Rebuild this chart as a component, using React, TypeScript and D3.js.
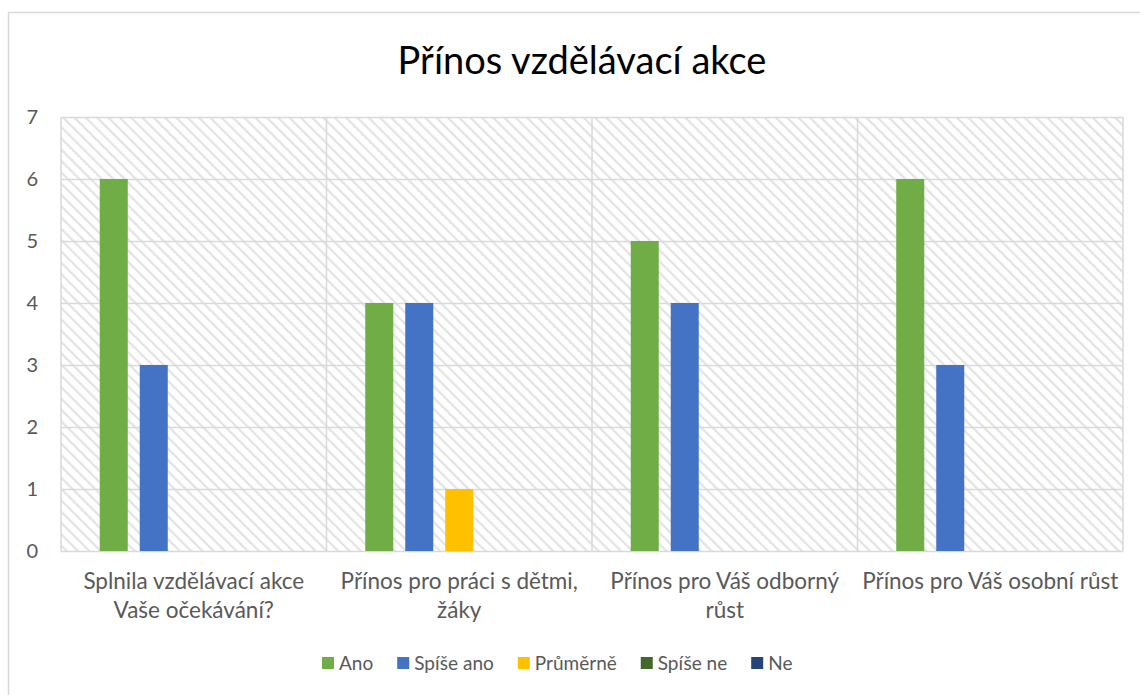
import { useEffect, useRef } from 'react';
import * as d3 from 'd3';

const categories = [
  'Splnila vzdělávací akce Vaše očekávání?',
  'Přínos pro práci s dětmi, žáky',
  'Přínos pro Váš odborný růst',
  'Přínos pro Váš osobní růst'
];

const seriesNames = ['Ano', 'Spíše ano', 'Průměrně', 'Spíše ne', 'Ne'];
const seriesColors = ['#70ad47', '#4472c4', '#ffc000', '#43682b', '#264478'];

const ano = [6, 4, 5, 6];
const spiseAno = [3, 4, 4, 3];
const prumerne = [0, 1, 0, 0];
const spiseNe = [0, 0, 0, 0];
const ne = [0, 0, 0, 0];

const yTicks = [0, 1, 2, 3, 4, 5, 6, 7];

const FONT = 'Lato, "Open Sans", sans-serif';

export default function App() {
  const svgRef = useRef<SVGSVGElement>(null);

  useEffect(() => {
    if (!svgRef.current) return;
    const W = 1140;
    const H = 695;
    const margin = { top: 117, right: 17, bottom: 144, left: 61 };
    const width = W - margin.left - margin.right;
    const height = H - margin.top - margin.bottom;

    const svg = d3.select(svgRef.current);
    svg.selectAll('*').remove();

    // hatch pattern for the plot background
    const defs = svg.append('defs');
    const pat = defs.append('pattern')
      .attr('id', 'hatch')
      .attr('patternUnits', 'userSpaceOnUse')
      .attr('width', 8)
      .attr('height', 8)
      .attr('patternTransform', 'rotate(-45)');
    pat.append('rect').attr('width', 8).attr('height', 8).attr('fill', '#ffffff');
    pat.append('line')
      .attr('x1', 0).attr('y1', 0).attr('x2', 0).attr('y2', 8)
      .attr('stroke', '#e3e3e3')
      .attr('stroke-width', 4.5);

    // outer chart border
    svg.append('rect')
      .attr('x', 8.5).attr('y', 12.5)
      .attr('width', W + 20).attr('height', H + 20)
      .attr('fill', 'white')
      .attr('stroke', '#d9d9d9')
      .attr('stroke-width', 1.5);

    svg.append('text')
      .attr('x', 582)
      .attr('y', 74)
      .attr('text-anchor', 'middle')
      .attr('font-family', FONT)
      .attr('font-size', 38)
      .attr('fill', '#000')
      .text('Přínos vzdělávací akce');

    const g = svg.append('g').attr('transform', `translate(${margin.left},${margin.top})`);

    const x0 = d3.scaleBand().domain(categories).range([0, width]).paddingInner(0).paddingOuter(0);
    const bw = x0.bandwidth();
    const groupW = 188;
    const x1 = d3.scaleBand()
      .domain(seriesNames)
      .range([(bw - groupW) / 2, (bw + groupW) / 2])
      .paddingInner(12 / 40);
    const y = d3.scaleLinear().domain([0, 7]).range([height, 0]);

    g.append('rect')
      .attr('width', width).attr('height', height)
      .attr('fill', 'url(#hatch)');

    // horizontal gridlines
    g.append('g').selectAll('line')
      .data(yTicks)
      .enter().append('line')
      .attr('x1', 0).attr('x2', width)
      .attr('y1', d => Math.round(y(d)) + 0.5)
      .attr('y2', d => Math.round(y(d)) + 0.5)
      .attr('stroke', '#d9d9d9')
      .attr('stroke-width', 1.5);

    // category separators
    const bounds = [0, ...categories.map(c => x0(c)! + bw)];
    g.append('g').selectAll('line')
      .data(bounds)
      .enter().append('line')
      .attr('x1', d => d).attr('x2', d => d)
      .attr('y1', 0).attr('y2', height)
      .attr('stroke', '#d9d9d9')
      .attr('stroke-width', 1.5);

    const values = [ano, spiseAno, prumerne, spiseNe, ne];
    const rows = categories.flatMap((c, ci) =>
      seriesNames.map((s, si) => ({ c, s, si, v: values[si][ci] }))
    ).filter(d => d.v > 0);

    g.append('g').selectAll('rect')
      .data(rows)
      .enter().append('rect')
      .attr('x', d => x0(d.c)! + x1(d.s)!)
      .attr('y', d => y(d.v))
      .attr('width', x1.bandwidth())
      .attr('height', d => y(0) - y(d.v))
      .attr('fill', d => seriesColors[d.si]);

    // y labels
    g.append('g').selectAll('text')
      .data(yTicks)
      .enter().append('text')
      .attr('x', -23)
      .attr('y', d => y(d))
      .attr('dy', '0.35em')
      .attr('text-anchor', 'end')
      .attr('font-family', FONT)
      .attr('font-size', 20)
      .attr('fill', '#595959')
      .text(d => d);

    // category labels, wrapped
    const labels = g.append('g').selectAll('text')
      .data(categories)
      .enter().append('text')
      .attr('x', d => x0(d)! + bw / 2)
      .attr('y', height + 38)
      .attr('text-anchor', 'middle')
      .attr('font-family', FONT)
      .attr('font-size', 22.5)
      .attr('fill', '#595959');

    labels.each(function (d) {
      const text = d3.select(this);
      const words = d.split(' ');
      let line: string[] = [];
      let tspan = text.append('tspan').attr('x', text.attr('x')).attr('dy', 0);
      for (const w of words) {
        line.push(w);
        tspan.text(line.join(' '));
        if ((tspan.node() as SVGTSpanElement).getComputedTextLength() > bw - 5 && line.length > 1) {
          line.pop();
          tspan.text(line.join(' '));
          line = [w];
          tspan = text.append('tspan').attr('x', text.attr('x')).attr('dy', 29).text(w);
        }
      }
    });

    // legend, laid out left to right
    const legend = svg.append('g').attr('transform', 'translate(322,663)');
    let lx = 0;
    seriesNames.forEach((s, i) => {
      const item = legend.append('g').attr('transform', `translate(${lx},0)`);
      item.append('rect')
        .attr('x', 0).attr('y', -6)
        .attr('width', 12).attr('height', 12)
        .attr('fill', seriesColors[i]);
      const t = item.append('text')
        .attr('x', 17)
        .attr('y', 0)
        .attr('dy', '0.35em')
        .attr('font-family', FONT)
        .attr('font-size', 19)
        .attr('fill', '#595959')
        .text(s);
      lx += 17 + (t.node() as SVGTextElement).getComputedTextLength() + 24;
    });
  }, []);

  return (
    <div style={{ position: 'absolute', left: 0, top: 0, width: 1140, height: 695, overflow: 'hidden', background: '#fff' }}>
      <svg ref={svgRef} width={1140} height={695} />
    </div>
  );
}
